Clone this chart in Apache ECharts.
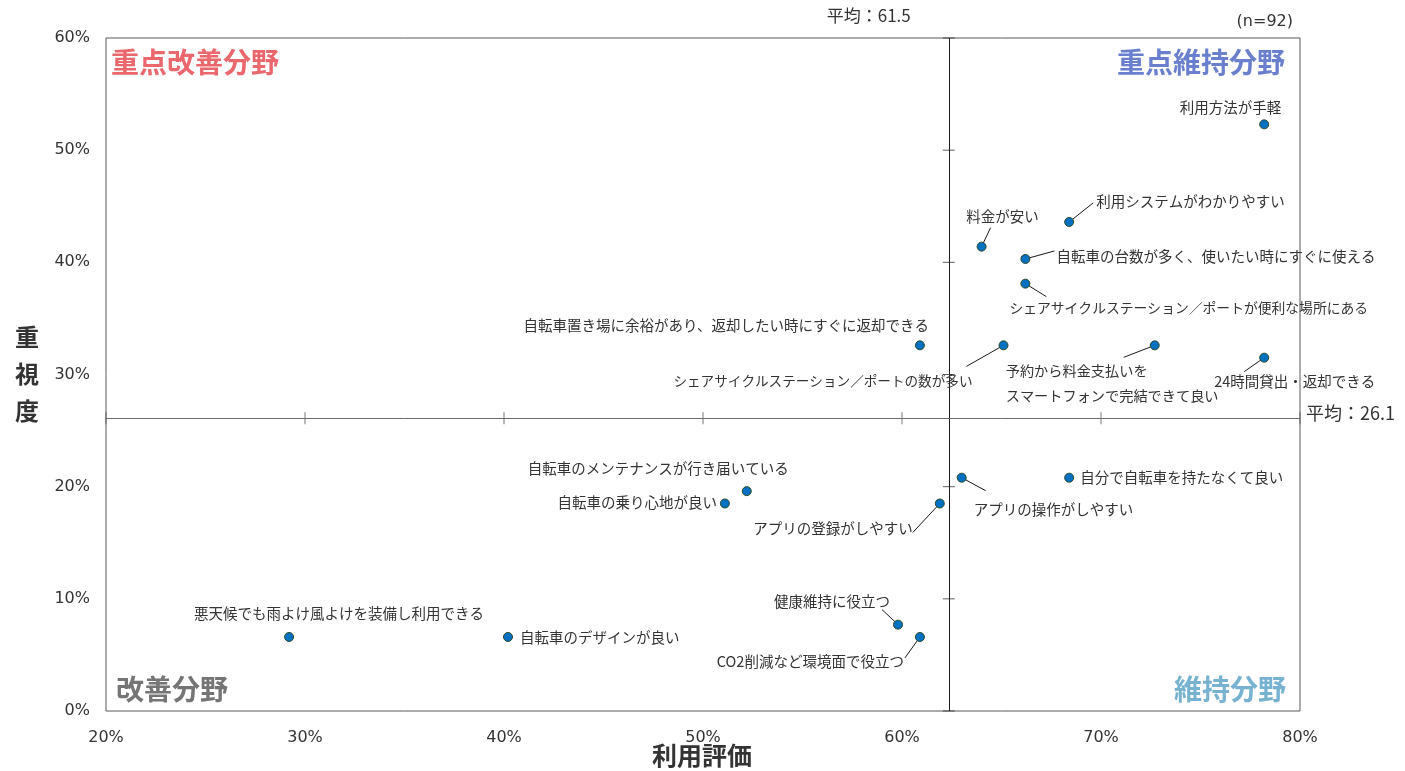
<!DOCTYPE html>
<html>
<head>
<meta charset="utf-8">
<script src="https://cdn.jsdelivr.net/npm/echarts@6/dist/echarts.min.js"></script>
<style>
html,body{margin:0;padding:0;background:#fff;}
#chart{width:1405px;height:771px;}
</style>
</head>
<body>
<div id="chart"></div>
<script>
// ---- data ----
const categories = [
  '利用方法が手軽',
  '利用システムがわかりやすい',
  '料金が安い',
  '自転車の台数が多く、使いたい時にすぐに使える',
  'シェアサイクルステーション／ポートが便利な場所にある',
  '自転車置き場に余裕があり、返却したい時にすぐに返却できる',
  'シェアサイクルステーション／ポートの数が多い',
  '予約から料金支払いを\nスマートフォンで完結できて良い',
  '24時間貸出・返却できる',
  '自分で自転車を持たなくて良い',
  'アプリの操作がしやすい',
  'アプリの登録がしやすい',
  '自転車のメンテナンスが行き届いている',
  '自転車の乗り心地が良い',
  '悪天候でも雨よけ風よけを装備し利用できる',
  '自転車のデザインが良い',
  '健康維持に役立つ',
  'CO2削減など環境面で役立つ'
];
const evalValues = [78.2, 68.4, 64.0, 66.2, 66.2, 60.9, 65.1, 72.7, 78.2, 68.4, 63.0, 61.9, 52.2, 51.1, 29.2, 40.2, 59.8, 60.9];
const importanceValues = [52.3, 43.6, 41.4, 40.3, 38.1, 32.6, 32.6, 32.6, 31.5, 20.8, 20.8, 18.5, 19.6, 18.5, 6.6, 6.6, 7.7, 6.6];
const xTickValues = [20, 30, 40, 50, 60, 70, 80];
const yTickValues = [0, 10, 20, 30, 40, 50, 60];
const avgLinePos = [62.35, 26.1];
const avgLabels = ['平均：61.5', '平均：26.1'];
const sampleNote = '(n=92)';

// ---- label placement (style only): [align, dx, dy, fontSize] ----
const labelPlace = [
  ['right', 17, -17, 14.5],
  ['left', 27, -20, 14.5],
  ['center', 21, -30, 14.5],
  ['left', 31, -2, 14.5],
  ['left', -16, 24, 13.8],
  ['right', 9, -20, 14.5],
  ['right', -31, 35, 13.6],
  ['left', -149, 38, 14.2],
  ['left', -50, 24, 14.5],
  ['left', 11, 0, 14.5],
  ['left', 12, 32, 14.5],
  ['right', -27, 25, 14.5],
  ['right', 42, -23, 14.5],
  ['right', -8, -1, 14.5],
  ['center', 50, -23, 14.5],
  ['left', 12, 1, 14.5],
  ['right', -8, -23, 14.5],
  ['right', -16, 25, 14.5]
];
// leader line end offsets in pixels from the marker (style only), null = no leader
const leaderEnd = [
  null, [24, -19], [9, -19], [29, -8], [21, 13], null, [-37, 21], [-31, 12],
  [-20, 14], null, [24, 13], [-27, 29], null, null, null, null, [-16, -15], [-15, 21]
];

const JP = "'Noto Sans CJK JP', sans-serif";
const NUM = "'DejaVu Sans', 'Noto Sans CJK JP', sans-serif";

const pointData = categories.map((name, i) => ({
  name: name,
  value: [evalValues[i], importanceValues[i]],
  label: { fontSize: labelPlace[i][3] }
}));

const hTicks = xTickValues.map(x => [x, avgLinePos[1]]);
const vTicks = yTickValues.map(y => [avgLinePos[0], y]);

const chart = echarts.init(document.getElementById('chart'), null, { renderer: 'canvas' });

const option = {
  animation: false,
  backgroundColor: '#fff',
  grid: {
    left: 106, right: 105, top: 38, bottom: 60,
    show: true, borderColor: '#595959', borderWidth: 1, backgroundColor: 'transparent'
  },
  xAxis: {
    type: 'value', min: 20, max: 80, interval: 10,
    axisLine: { show: false }, axisTick: { show: false }, splitLine: { show: false },
    axisLabel: { formatter: '{value}%', margin: 19, fontSize: 16, color: '#333', fontFamily: NUM }
  },
  yAxis: {
    type: 'value', min: 0, max: 60, interval: 10,
    axisLine: { show: false }, axisTick: { show: false }, splitLine: { show: false },
    axisLabel: { formatter: '{value}%', margin: 16, fontSize: 16, color: '#333', fontFamily: NUM }
  },
  series: [
    {
      type: 'scatter',
      name: 'cross',
      data: [],
      silent: true,
      markLine: {
        silent: true,
        symbol: ['none', 'none'],
        label: { show: false },
        data: [
          { xAxis: avgLinePos[0], lineStyle: { color: '#1a1a1a', width: 1, type: 'solid' } },
          { yAxis: avgLinePos[1], lineStyle: { color: '#6b6b6b', width: 1, type: 'solid' } }
        ]
      }
    },
    {
      type: 'scatter', name: 'hticks', data: hTicks, silent: true,
      symbol: 'rect', symbolSize: [1, 12],
      itemStyle: { color: '#555' }
    },
    {
      type: 'scatter', name: 'vticks', data: vTicks, silent: true,
      symbol: 'rect', symbolSize: [12, 1],
      itemStyle: { color: '#333' }
    },
    {
      type: 'custom',
      name: 'leaders',
      silent: true,
      data: pointData.map(d => d.value),
      renderItem: function (params, api) {
        const off = leaderEnd[params.dataIndex];
        if (!off) return null;
        const p = api.coord([api.value(0), api.value(1)]);
        return {
          type: 'line',
          shape: { x1: p[0], y1: p[1], x2: p[0] + off[0], y2: p[1] + off[1] },
          style: { stroke: '#1a1a1a', lineWidth: 1 }
        };
      },
      z: 3
    },
    {
      type: 'scatter',
      name: 'items',
      data: pointData,
      symbol: 'circle',
      symbolSize: 9,
      itemStyle: { color: '#0070c0', borderColor: '#2d4a2a', borderWidth: 1, opacity: 1 },
      label: {
        show: true,
        position: 'inside',
        formatter: p => p.name,
        color: '#333',
        fontSize: 14.5,
        fontFamily: JP,
        lineHeight: 25
      },
      labelLayout: function (params) {
        const lp = labelPlace[params.dataIndex];
        return { align: lp[0], verticalAlign: 'middle', dx: lp[1], dy: lp[2] };
      },
      z: 5
    }
  ]
};
chart.setOption(option);

// texts anchored via axis conversion
const topPt = chart.convertToPixel({ gridIndex: 0 }, [avgLinePos[0], 60]);
const rightPt = chart.convertToPixel({ gridIndex: 0 }, [80, avgLinePos[1]]);

chart.setOption({
  graphic: [
    { type: 'text', x: topPt[0] - 38, y: topPt[1] - 22,
      style: { text: avgLabels[0], align: 'right', verticalAlign: 'middle', fontSize: 17, fill: '#333', fontFamily: JP } },
    { type: 'text', x: rightPt[0] + 6, y: rightPt[1] - 5,
      style: { text: avgLabels[1], align: 'left', verticalAlign: 'middle', fontSize: 18, fill: '#333', fontFamily: JP } },
    { type: 'text', x: 1293, y: 22,
      style: { text: sampleNote, align: 'right', verticalAlign: 'middle', fontSize: 16, fill: '#333', fontFamily: NUM } },
    { type: 'text', x: 111, y: 62,
      style: { text: '重点改善分野', align: 'left', verticalAlign: 'middle', fontSize: 28, fontWeight: 'bold', fill: '#e9676d', fontFamily: JP } },
    { type: 'text', x: 1285, y: 62,
      style: { text: '重点維持分野', align: 'right', verticalAlign: 'middle', fontSize: 28, fontWeight: 'bold', fill: '#6a80cf', fontFamily: JP } },
    { type: 'text', x: 116, y: 689,
      style: { text: '改善分野', align: 'left', verticalAlign: 'middle', fontSize: 28, fontWeight: 'bold', fill: '#757575', fontFamily: JP } },
    { type: 'text', x: 1286, y: 689,
      style: { text: '維持分野', align: 'right', verticalAlign: 'middle', fontSize: 28, fontWeight: 'bold', fill: '#77b3d1', fontFamily: JP } },
    { type: 'text', x: 27, y: 374,
      style: { text: '重\n視\n度', align: 'center', verticalAlign: 'middle', fontSize: 24, lineHeight: 37, fontWeight: 'bold', fill: '#333', fontFamily: JP } },
    { type: 'text', x: 702, y: 755,
      style: { text: '利用評価', align: 'center', verticalAlign: 'middle', fontSize: 25, fontWeight: 'bold', fill: '#333', fontFamily: JP } }
  ]
});
</script>
</body>
</html>
